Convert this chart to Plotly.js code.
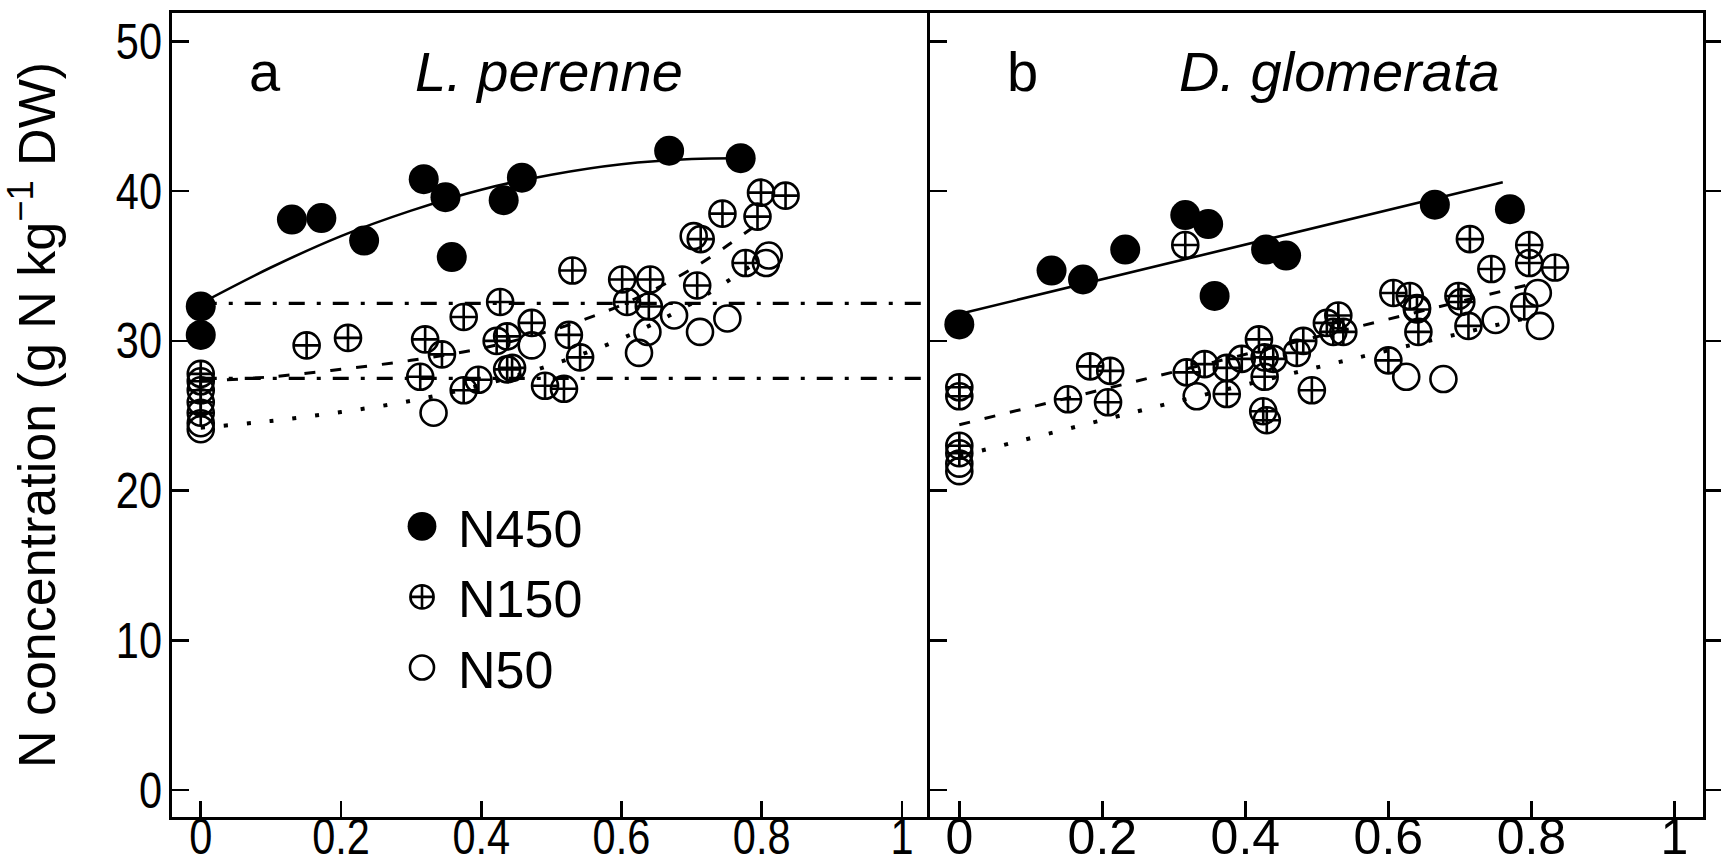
<!DOCTYPE html>
<html><head><meta charset="utf-8">
<script src="https://cdn.plot.ly/plotly-3.0.1.min.js"></script>
<style>html,body{margin:0;padding:0;background:#fff;}#chart{width:1731px;height:866px;}</style>
</head><body><div id="chart"></div>
<script>
// ---------- data: panel a, L. perenne ----------
const a450X = [0, 0, 0.130, 0.172, 0.233, 0.318, 0.349, 0.358, 0.432, 0.458, 0.668, 0.770];
const a450Y = [32.3, 30.4, 38.1, 38.2, 36.7, 40.8, 39.6, 35.6, 39.4, 40.9, 42.7, 42.2];
const a150X = [0, 0, 0, 0, 0, 0.151, 0.210, 0.313, 0.320, 0.344, 0.375, 0.375, 0.396, 0.422, 0.427, 0.437, 0.437, 0.444, 0.472, 0.491, 0.518, 0.525, 0.530, 0.541, 0.601, 0.608, 0.639, 0.641, 0.708, 0.713, 0.744, 0.777, 0.794, 0.799, 0.834];
const a150Y = [27.8, 27.3, 26.7, 25.9, 25.2, 29.7, 30.2, 27.6, 30.1, 29.1, 31.6, 26.7, 27.4, 30.0, 32.6, 30.3, 28.1, 28.2, 31.2, 27.0, 26.8, 30.4, 34.7, 28.9, 34.1, 32.6, 32.3, 34.1, 33.7, 36.8, 38.5, 35.2, 38.3, 39.9, 39.7];
const a50X = [0, 0, 0.332, 0.472, 0.625, 0.637, 0.675, 0.703, 0.712, 0.751, 0.806, 0.810];
const a50Y = [24.5, 24.1, 25.2, 29.7, 29.2, 30.6, 31.7, 37.0, 30.6, 31.5, 35.2, 35.7];
// fitted curves
const aFitX = [0, 0.1, 0.2, 0.3, 0.4, 0.5, 0.6, 0.7, 0.77];
const aFit450Y = [32.5, 34.9, 37.0, 38.7, 40.1, 41.1, 41.8, 42.15, 42.2];
const aFitX2 = [0, 0.1, 0.2, 0.3, 0.4, 0.5, 0.6, 0.7, 0.8];
const aFit150Y = [27.3, 27.6, 28.1, 28.7, 29.5, 30.7, 32.4, 34.8, 38.0];
const aFit50Y = [24.2, 24.65, 25.25, 26.0, 27.05, 28.4, 30.15, 32.5, 35.5];
const aRefX = [0, 1.04];
const aRefHigh = [32.5, 32.5];
const aRefLow = [27.5, 27.5];

// ---------- data: panel b, D. glomerata ----------
const b450X = [0, 0.129, 0.173, 0.232, 0.316, 0.348, 0.357, 0.429, 0.457, 0.665, 0.770];
const b450Y = [31.1, 34.7, 34.1, 36.1, 38.4, 37.8, 33.0, 36.1, 35.7, 39.1, 38.8];
const b150X = [0, 0, 0, 0, 0.152, 0.183, 0.208, 0.211, 0.316, 0.318, 0.343, 0.374, 0.374, 0.395, 0.419, 0.425, 0.427, 0.427, 0.430, 0.439, 0.472, 0.481, 0.493, 0.514, 0.523, 0.530, 0.537, 0.600, 0.607, 0.630, 0.640, 0.642, 0.698, 0.702, 0.712, 0.714, 0.744, 0.790, 0.797, 0.797, 0.833];
const b150Y = [26.9, 26.3, 23.0, 22.5, 26.1, 28.3, 25.9, 28.0, 36.4, 27.9, 28.45, 28.2, 26.45, 28.8, 30.1, 25.3, 28.9, 27.6, 24.7, 28.8, 29.2, 30.0, 26.7, 31.2, 30.6, 31.7, 30.6, 28.7, 33.2, 33.0, 32.1, 30.6, 33.0, 32.6, 31.0, 36.8, 34.8, 32.3, 36.4, 35.2, 34.9];
const b50X = [0, 0, 0.332, 0.625, 0.640, 0.677, 0.750, 0.809, 0.812];
const b50Y = [21.8, 21.3, 26.3, 27.6, 32.2, 27.45, 31.4, 33.2, 31.0];
const bFit450X = [0, 0.76];
const bFit450Y = [31.8, 40.6];
const bFit150X = [0, 0.8];
const bFit150Y = [24.4, 33.8];
const bFit50X = [0, 0.3, 0.55, 0.8];
const bFit50Y = [22.3, 25.9, 28.8, 31.6];

// ---------- axes / labels ----------
const xTickVals = [0, 0.2, 0.4, 0.6, 0.8, 1];
const xTickText = ['0', '0.2', '0.4', '0.6', '0.8', '1'];
const yTickVals = [0, 10, 20, 30, 40, 50];
const seriesNames = ['N450', 'N150', 'N50'];
const panelLetters = ['a', 'b'];
const panelSpecies = ['L. perenne', 'D. glomerata'];
const yTitle = 'N concentration (g N kg<sup>\u22121</sup> DW)';

const W = 1731, H = 866;
const SANS = 'Liberation Sans, Arial, Helvetica, sans-serif';

function lineTr(x, y, xa, ya, dash, width) {
  return {x: x, y: y, xaxis: xa, yaxis: ya, mode: 'lines', type: 'scatter',
    line: {color: '#000', width: width, dash: dash, shape: 'spline'},
    showlegend: false, hoverinfo: 'skip'};
}
function markTr(x, y, xa, ya, kind, name, legend) {
  let marker;
  if (kind === 0) marker = {symbol: 'circle', size: 30, color: '#000', line: {width: 0}};
  else if (kind === 1) marker = {symbol: 'circle-cross-open', size: 26, color: '#000', line: {width: 2.6, color: '#000'}};
  else marker = {symbol: 'circle-open', size: 26, color: '#000', line: {width: 2.6, color: '#000'}};
  return {x: x, y: y, xaxis: xa, yaxis: ya, mode: 'markers', type: 'scatter', name: name,
    marker: marker, showlegend: legend, cliponaxis: true};
}

const DASHDOT = '16px,12px,4px,12px';
const DASHED = '11px,15px';
const DOTTED = '4px,19px';

const traces = [
  markTr(a450X, a450Y, 'x', 'y', 0, seriesNames[0], true),
  markTr(a150X, a150Y, 'x', 'y', 1, seriesNames[1], true),
  markTr(a50X, a50Y, 'x', 'y', 2, seriesNames[2], true),
  lineTr(aRefX, aRefHigh, 'x', 'y', DASHDOT, 3.2),
  lineTr(aRefX, aRefLow, 'x', 'y', DASHDOT, 3.2),
  lineTr(aFitX, aFit450Y, 'x', 'y', 'solid', 2.6),
  lineTr(aFitX2, aFit150Y, 'x', 'y', DASHED, 3),
  lineTr(aFitX2, aFit50Y, 'x', 'y', DOTTED, 4),
  lineTr(bFit450X, bFit450Y, 'x2', 'y2', 'solid', 2.6),
  lineTr(bFit150X, bFit150Y, 'x2', 'y2', DASHED, 3),
  lineTr(bFit50X, bFit50Y, 'x2', 'y2', DOTTED, 4),
  markTr(b450X, b450Y, 'x2', 'y2', 0, seriesNames[0], false),
  markTr(b150X, b150Y, 'x2', 'y2', 1, seriesNames[1], false),
  markTr(b50X, b50Y, 'x2', 'y2', 2, seriesNames[2], false),
  {x: [], y: [], xaxis: 'x2', yaxis: 'y3', type: 'scatter', mode: 'markers', showlegend: false}
];

const yRange = [-1.8, 51.9];
const xRange = [-0.041, 1.04];
const yDom = [(H - 817) / H, (H - 13) / H];

function xAxis(dom, anchor) {
  return {domain: dom, anchor: anchor, range: xRange, tickvals: xTickVals, ticktext: xTickText,
    ticks: 'inside', ticklen: 16, tickwidth: 2.6, tickcolor: '#000',
    showline: true, linewidth: 3, linecolor: '#000', mirror: true,
    showgrid: false, zeroline: false, ticklabelstandoff: -26,
    tickfont: {family: SANS, size: 50, color: '#000'}};
}
function yAxis(anchor, extra) {
  return Object.assign({domain: yDom, anchor: anchor, range: yRange, tickvals: yTickVals,
    ticks: 'inside', ticklen: 17, tickwidth: 2.6, tickcolor: '#000',
    showline: true, linewidth: 3, linecolor: '#000',
    showgrid: false, zeroline: false, ticklabelstandoff: -3,
    tickfont: {family: SANS, size: 50, color: '#000'}}, extra);
}

const layout = {
  width: W, height: H,
  margin: {l: 0, r: 0, t: 0, b: 0},
  paper_bgcolor: '#fff', plot_bgcolor: 'rgba(0,0,0,0)',
  font: {family: SANS, color: '#000'},
  xaxis: xAxis([172 / W, 930 / W], 'y'),
  xaxis2: xAxis([930 / W, 1703 / W], 'y2'),
  yaxis: yAxis('x', {mirror: false,
    title: {text: yTitle, font: {family: SANS, size: 52, color: '#000'}, standoff: 38}}),
  yaxis2: yAxis('x2', {mirror: true, showticklabels: false}),
  yaxis3: yAxis('x2', {overlaying: 'y2', side: 'right', ticks: 'outside', showline: false, showticklabels: false}),
  showlegend: true,
  legend: {x: 418 / W, xanchor: 'left', y: 1 - 597 / H, yanchor: 'middle',
    bgcolor: 'rgba(0,0,0,0)', borderwidth: 0,
    font: {family: SANS, size: 52, color: '#000'}, tracegroupgap: 0},
  annotations: [
    {text: panelLetters[0], xref: 'x', yref: 'y', x: 0.091, y: 48.0, showarrow: false, xanchor: 'center', yanchor: 'middle', font: {family: SANS, size: 56}},
    {text: '<i>' + panelSpecies[0] + '</i>', xref: 'x', yref: 'y', x: 0.497, y: 48.0, showarrow: false, xanchor: 'center', yanchor: 'middle', font: {family: SANS, size: 56}},
    {text: panelLetters[1], xref: 'x2', yref: 'y2', x: 0.089, y: 48.0, showarrow: false, xanchor: 'center', yanchor: 'middle', font: {family: SANS, size: 56}},
    {text: '<i>' + panelSpecies[1] + '</i>', xref: 'x2', yref: 'y2', x: 0.532, y: 48.0, showarrow: false, xanchor: 'center', yanchor: 'middle', font: {family: SANS, size: 56}}
  ]
};

Plotly.newPlot('chart', traces, layout, {staticPlot: true, displayModeBar: false}).then(function (gd) {
  // enlarge legend symbols (Plotly caps them at 16px) and keep them unclipped
  gd.querySelectorAll('.legend [clip-path]').forEach(function (e) { e.removeAttribute('clip-path'); });
  const scales = [1.8, 1.45, 1.5];
  gd.querySelectorAll('.legend .traces').forEach(function (tr, i) {
    const txt = tr.querySelector('text.legendtext');
    const tx = txt ? (parseFloat(txt.getAttribute('x')) || 40) : 40;
    tr.querySelectorAll('.legendpoints path').forEach(function (p) {
      p.setAttribute('transform', 'translate(' + (tx - 36) + ',0) scale(' + (scales[i] || 1.5) + ')');
      p.setAttribute('vector-effect', 'non-scaling-stroke');
    });
  });
  // condensed look of the tick numbers
  gd.querySelectorAll('.xtick text, .ytick text').forEach(function (t) {
    const bb = t.getBBox();
    const anchor = t.getAttribute('text-anchor') || 'start';
    let ax = bb.x;
    if (anchor === 'end') ax = bb.x + bb.width;
    else if (anchor === 'middle') ax = bb.x + bb.width / 2;
    const cur = t.getAttribute('transform') || '';
    t.setAttribute('transform', cur + ' translate(' + ax + ',0) scale(0.83,1) translate(' + (-ax) + ',0)');
  });
});
</script>
</body></html>
